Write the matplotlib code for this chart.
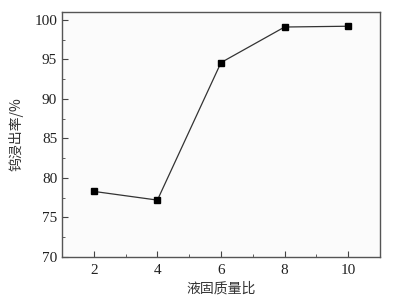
import numpy as np
import matplotlib
matplotlib.use('Agg')
import matplotlib.pyplot as plt
from matplotlib.ticker import MultipleLocator

# 液固质量比 vs 钨浸出率
ratio = [2, 4, 6, 8, 10]
leach_rate = [78.3, 77.2, 94.6, 99.1, 99.2]

plt.rcParams['font.family'] = ['Liberation Serif', 'Noto Sans CJK SC']

fig = plt.figure(figsize=(4.17, 3.0), dpi=100)
ax = fig.add_axes([62/417, 1 - 257/300, (380-62)/417, (257-12)/300])
ax.set_facecolor('#fbfbfb')

ax.plot(ratio, leach_rate, color='#333333', lw=0.9, marker='s', ms=4.5,
        mfc='black', mec='black')

ax.set_xlim(1, 11)
ax.set_ylim(70, 101)
ax.xaxis.set_major_locator(MultipleLocator(2))
ax.xaxis.set_minor_locator(MultipleLocator(1))
ax.yaxis.set_major_locator(MultipleLocator(5))
ax.yaxis.set_minor_locator(MultipleLocator(2.5))
ax.tick_params(which='both', direction='in', colors='#444444', labelcolor='#222222',
               labelsize=11)
ax.tick_params(which='major', length=4)
ax.tick_params(which='minor', length=2.5)
ax.tick_params(axis='x', pad=5)
for s in ax.spines.values():
    s.set_color('#555555')
    s.set_linewidth(1.0)

ax.set_xlabel('液固质量比', family=['Noto Sans CJK SC'], fontsize=10, color='#333333', labelpad=3)
ax.set_ylabel('钨浸出率/%', family=['Noto Sans CJK SC'], fontsize=10, color='#333333', labelpad=8)

fig.savefig('out.png', dpi=100)
